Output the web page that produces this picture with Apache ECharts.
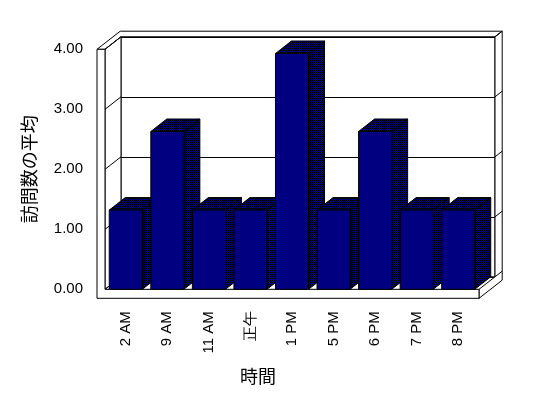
<!DOCTYPE html>
<html>
<head>
<meta charset="utf-8">
<script src="https://cdn.jsdelivr.net/npm/echarts@6/dist/echarts.min.js"></script>
<style>
html,body{margin:0;padding:0;background:#fff;}
#chart{width:548px;height:398px;}
</style>
</head>
<body>
<div id="chart"></div>
<script>
// ---- data ----
const categories = ['2 AM', '9 AM', '11 AM', '正午', '1 PM', '5 PM', '6 PM', '7 PM', '8 PM'];
const values = [1.32, 2.63, 1.32, 1.32, 3.93, 1.32, 2.63, 1.32, 1.32];
const yTicks = [0, 1, 2, 3, 4];
const xTitle = '時間';
const yTitle = '訪問数の平均';

// ---- 3D look (styling only) ----
const DX = 16, DY = -12.5;          // depth offset of back wall / bars
const ODX = 23.2, ODY = -18.1;      // outer back face of the wall slab
const WT = 8, FT = 9;               // left wall thickness, floor thickness
const FRONT = '#000080';

const pc = document.createElement('canvas');
pc.width = 2; pc.height = 2;
const pctx = pc.getContext('2d');
pctx.fillStyle = FRONT; pctx.fillRect(0, 0, 2, 2);
pctx.fillStyle = '#000'; pctx.fillRect(0, 0, 1, 1); pctx.fillRect(1, 1, 1, 1);
const dither = { image: pc, repeat: 'repeat' };

const lineStyle = { fill: '#fff', stroke: '#000', lineWidth: 1 };
const font = 'Liberation Sans, Arial, sans-serif';
const cjk = 'Noto Sans CJK JP, sans-serif';

const chart = echarts.init(document.getElementById('chart'), null, { renderer: 'canvas' });

function wallsItem(params, api) {
  const cs = params.coordSys;
  const L = cs.x, R = cs.x + cs.width, T = cs.y, B = cs.y + cs.height;
  const ch = [];
  ch.push({ type: 'polygon', shape: { points: [[L - WT, T], [L, T], [L + DX, T + DY], [R + DX, T + DY], [R + ODX, T + ODY], [L - WT + ODX, T + ODY]] }, style: lineStyle });
  ch.push({ type: 'polygon', shape: { points: [[R, B], [R, B + FT], [R + ODX, B + FT + ODY], [R + ODX, T + ODY], [R + DX, T + DY], [R + DX, B + DY]] }, style: lineStyle });
  ch.push({ type: 'polygon', shape: { points: [[L, T], [L + DX, T + DY], [L + DX, B + DY], [L, B]] }, style: lineStyle });
  ch.push({ type: 'polygon', shape: { points: [[L - WT, T], [L, T], [L, B], [R, B], [R, B + FT], [L - WT, B + FT]] }, style: lineStyle });
  yTicks.forEach(v => {
    const y = api.coord([0, v])[1];
    ch.push({ type: 'line', shape: { x1: L, y1: y, x2: L + DX, y2: y + DY }, style: { stroke: '#000', lineWidth: 1 } });
    ch.push({ type: 'line', shape: { x1: R + DX, y1: y + DY, x2: R + ODX, y2: y + ODY }, style: { stroke: '#000', lineWidth: 1 } });
  });
  return { type: 'group', children: ch };
}

function barItem(params, api) {
  const x = api.value(0), v = api.value(1);
  const base = api.coord([x, 0]);
  const top = api.coord([x, v]);
  const bw = api.size([1, 0])[0] * 0.795;
  const l = base[0] - bw / 2, r = base[0] + bw / 2;
  const yb = base[1], yt = top[1];
  return {
    type: 'group',
    children: [
      { type: 'polygon', shape: { points: [[r, yt], [r + DX, yt + DY], [r + DX, yb + DY], [r, yb]] }, style: { fill: dither, stroke: '#000', lineWidth: 1 } },
      { type: 'polygon', shape: { points: [[l, yt], [l + DX, yt + DY], [r + DX, yt + DY], [r, yt]] }, style: { fill: dither, stroke: '#000', lineWidth: 1 } },
      { type: 'rect', shape: { x: l, y: yt, width: bw, height: yb - yt }, style: { fill: FRONT, stroke: '#000', lineWidth: 1 } }
    ]
  };
}

const option = {
  backgroundColor: '#fff',
  animation: false,
  grid: [
    { left: 105, right: 69, top: 49.3, bottom: 108.7, containLabel: false },
    { left: 121, right: 53, top: 36.8, bottom: 121.2, show: true, borderColor: '#000', borderWidth: 1, backgroundColor: 'transparent' }
  ],
  xAxis: [
    {
      gridIndex: 0, type: 'category', data: categories, boundaryGap: true,
      axisLine: { show: true, lineStyle: { color: '#000', width: 1 } },
      axisTick: { show: true, length: 9, lineStyle: { color: '#000' }, interval: (i) => i !== 0 },
      axisLabel: { rotate: 90, margin: 22, fontSize: 15, color: '#000', fontFamily: font, interval: 0 },
      name: xTitle, nameLocation: 'middle', nameGap: 78,
      nameTextStyle: { fontSize: 18, color: '#000', fontFamily: cjk, padding: [0, 68, 0, 0] }
    },
    { gridIndex: 1, type: 'value', show: false, min: 0, max: 1 }
  ],
  yAxis: [
    {
      gridIndex: 0, type: 'value', min: 0, max: 4, interval: 1,
      axisLine: { show: true, lineStyle: { color: '#000', width: 1 } },
      axisTick: { show: true, length: 8, lineStyle: { color: '#000' } },
      splitLine: { show: false },
      axisLabel: { margin: 22, fontSize: 15, color: '#000', fontFamily: font, formatter: v => v.toFixed(2) },
      name: yTitle, nameLocation: 'middle', nameRotate: 90, nameGap: 67,
      nameTextStyle: { fontSize: 18, color: '#000', fontFamily: cjk }
    },
    {
      gridIndex: 1, type: 'value', min: 0, max: 4, interval: 1,
      axisLine: { show: false }, axisTick: { show: false }, axisLabel: { show: false },
      splitLine: { show: true, lineStyle: { color: '#000', width: 1 } }
    }
  ],
  series: [
    {
      type: 'custom', name: 'walls', xAxisIndex: 0, yAxisIndex: 0, z: 1, silent: true,
      renderItem: wallsItem, data: [[0, 0]]
    },
    {
      type: 'custom', name: '訪問数の平均', xAxisIndex: 0, yAxisIndex: 0, z: 3, silent: true,
      renderItem: barItem,
      data: values.map((v, i) => [i, v])
    }
  ]
};
chart.setOption(option);
</script>
</body>
</html>
